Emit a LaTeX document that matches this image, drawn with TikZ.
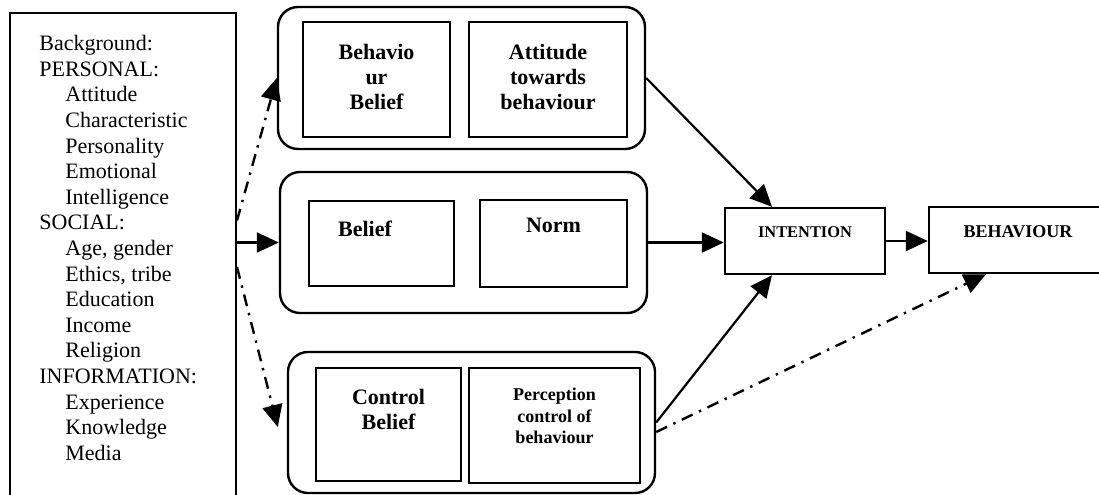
\documentclass[tikz,border=0pt]{standalone}
\usepackage{fontspec}
\setmainfont{Liberation Serif}
\usetikzlibrary{arrows.meta,calc,positioning}
\newcommand\bgind{\hspace*{13pt}}

\begin{document}
\begin{tikzpicture}[
  x=0.5pt,y=-0.5pt,
  grp/.style={draw,line width=1.2pt,rounded corners=10pt,
              minimum width=183.5pt,minimum height=70.5pt},
  cell/.style={draw,line width=1.2pt,inner sep=0pt,align=center,
               font=\fontsize{11}{12.5}\selectfont\bfseries},
  txt/.style={align=center,inner sep=0pt,
              font=\fontsize{11}{12.5}\selectfont\bfseries},
  arr/.style={-{Triangle[length=11pt,width=10pt]},line width=1.1pt},
  dashdot/.style={arr,line width=1.2pt,dash pattern=on 6pt off 3.5pt on 1.2pt off 3.5pt}
]
  \useasboundingbox (0,0) rectangle (1099,494);
  \clip (0,0) rectangle (1099,494);

  % background factors
  \node[draw,line width=1pt,minimum width=113pt,minimum height=254pt] (bg) at (123,267) {};
  \node[anchor=north west,align=left,inner sep=0pt,
        font=\fontsize{11}{12.8}\selectfont] (bgtxt) at (39,35)
    {Background:\\PERSONAL:\\\bgind Attitude\\\bgind Characteristic\\\bgind Personality\\
     \bgind Emotional\\\bgind Intelligence\\SOCIAL:\\\bgind Age, gender\\\bgind Ethics, tribe\\
     \bgind Education\\\bgind Income\\\bgind Religion\\INFORMATION:\\\bgind Experience\\
     \bgind Knowledge\\\bgind Media};

  % attitude group
  \node[grp,minimum height=71pt] (attgrp) at (461.5,78) {};
  \node[cell,minimum width=73.5pt,minimum height=57.5pt] (behbel) at (376.5,79.5) {};
  \node[txt] (behtxt1) at ([yshift=1.25pt]behbel.center) {Behavio\\ur\\Belief};
  \node[cell,minimum width=79pt,minimum height=57.5pt] (atttow) at (548,79.5) {};
  \node[txt] (atttxt) at ([yshift=1.25pt]atttow.center) {Attitude\\towards\\behaviour};

  % norm group
  \node[grp] (normgrp) at (463.5,242.5) {};
  \node[cell,minimum width=72.5pt,minimum height=42.5pt] (belbox) at (381.5,243.5) {};
  \node[txt] (beltxt) at ([xshift=-8.25pt,yshift=-14.5pt]belbox.north) {Belief};
  \node[cell,minimum width=73.5pt,minimum height=43.5pt] (normbox) at (553.5,243.5) {};
  \node[txt] (normtxt) at ([yshift=-13.5pt]normbox.north) {Norm};

  % control group
  \node[grp] (ctrlgrp) at (471.5,422.5) {};
  \node[cell,minimum width=72.5pt,minimum height=56.5pt] (ctrlbox) at (388.5,424.5) {};
  \node[txt] (ctrltxt) at ([yshift=-21.25pt]ctrlbox.north) {Control\\Belief};
  \node[cell,minimum width=85.5pt,minimum height=57.5pt] (percbox) at (554.5,425.5) {};
  \node[txt,font=\fontsize{9}{10.75}\selectfont\bfseries] (perctxt)
    at ([yshift=-24.75pt]percbox.north) {Perception\\control of\\behaviour};

  % outcome
  \node[cell,minimum width=80pt,minimum height=33pt] (intent) at (805,241) {};
  \node[txt,font=\fontsize{8.2}{10}\selectfont\bfseries] (inttxt) at ([yshift=-12.5pt]intent.north) {INTENTION};
  \node[cell,minimum width=89pt,minimum height=33pt] (behav) at (1018,240) {};
  \node[txt,font=\fontsize{9}{10}\selectfont\bfseries] (behtxt) at ([yshift=-13pt]behav.north) {BEHAVIOUR};

  \draw[arr] (bg.east |- normgrp.west) -- (normgrp.west);
  \draw[dashdot] ($(bg.east)+(0,-46.5)$) -- (attgrp.west);
  \draw[dashdot] (bg.east) -- ($(ctrlgrp.west)+(-9,4.5)$);
  \draw[arr] (attgrp.east) -- ([xshift=-16.5pt]intent.north);
  \draw[arr] (normgrp.east) -- (intent.west |- normgrp.east);
  \draw[arr] (ctrlgrp.east) -- ([xshift=-16.5pt]intent.south);
  \draw[dashdot] ($(ctrlgrp.east)+(0,9.5)$) -- ([xshift=-16pt]behav.south);
  \draw[arr] (intent.east) -- (intent.east -| behav.west);
\end{tikzpicture}
\end{document}
